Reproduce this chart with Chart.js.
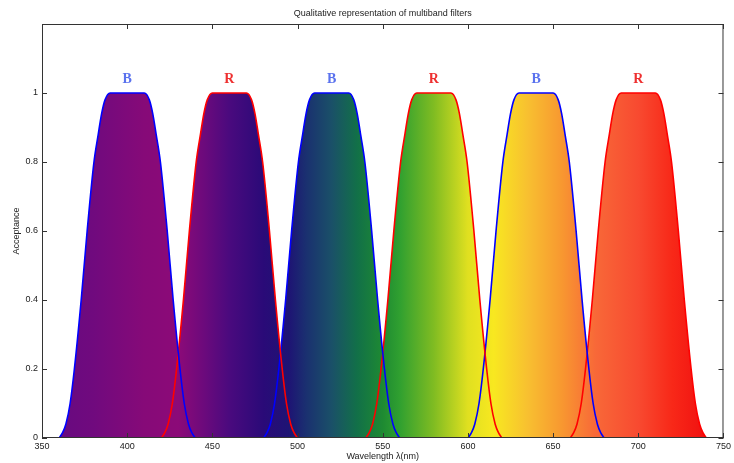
<!DOCTYPE html>
<html>
<head>
<meta charset="utf-8">
<script src="https://cdn.jsdelivr.net/npm/chart.js@4"></script>
<style>
  body { margin: 0; background: #fff; }
  canvas { display: block; }
</style>
</head>
<body>
<canvas id="filters" width="734" height="463"></canvas>
<script>
// acceptance profile (same shape for every filter)
const acceptance = [0, 0.015, 0.04, 0.1, 0.2, 0.4, 0.6, 0.8, 0.88, 0.94, 0.98, 1, 1, 0.98, 0.94, 0.88, 0.8, 0.6, 0.4, 0.2, 0.1, 0.04, 0.015, 0];

// wavelength of each point, per filter
const b1Wave = [360, 362, 364, 366.5, 369, 373, 376.5, 380.5, 383, 385, 387, 390, 410, 413, 415, 417, 419.5, 423.5, 427, 431, 433.5, 436, 438, 440];
const r1Wave = [420, 422, 424, 426.5, 429, 433, 436.5, 440.5, 443, 445, 447, 450, 470, 473, 475, 477, 479.5, 483.5, 487, 491, 493.5, 496, 498, 500];
const b2Wave = [480, 482, 484, 486.5, 489, 493, 496.5, 500.5, 503, 505, 507, 510, 530, 533, 535, 537, 539.5, 543.5, 547, 551, 553.5, 556, 558, 560];
const r2Wave = [540, 542, 544, 546.5, 549, 553, 556.5, 560.5, 563, 565, 567, 570, 590, 593, 595, 597, 599.5, 603.5, 607, 611, 613.5, 616, 618, 620];
const b3Wave = [600, 602, 604, 606.5, 609, 613, 616.5, 620.5, 623, 625, 627, 630, 650, 653, 655, 657, 659.5, 663.5, 667, 671, 673.5, 676, 678, 680];
const r3Wave = [660, 662, 664, 666.5, 669, 673, 676.5, 680.5, 683, 685, 687, 690, 710, 713, 715, 717, 719.5, 723.5, 727, 731, 733.5, 736, 738, 740];

const bandNames = ["B", "R", "B", "R", "B", "R"];
const bandCenters = [400, 460, 520, 580, 640, 700];
const labelLevel = 1.04;

const xTicks = [350, 400, 450, 500, 550, 600, 650, 700, 750];
const yTicks = [0, 0.2, 0.4, 0.6, 0.8, 1];

// spectrum colours under the curves
const spectrumNm = [350, 360, 380, 410, 430, 445, 460, 480, 495, 505, 520, 535, 550, 560, 580, 600, 615, 635, 655, 675, 700, 720, 740, 750];
const spectrumColors = ["#660a80", "#680a80", "#700a7e", "#860a78", "#8c0a78", "#6c0a7c", "#4a0a7e", "#2a0a78", "#1e1474", "#1a3070", "#1a5068", "#127048", "#1e8a32", "#30a030", "#80bc22", "#e0e020", "#f8e820", "#f8c030", "#f89830", "#f86838", "#f84a30", "#f82818", "#f01010", "#f01010"];

function spectrum(context) {
    const chart = context.chart;
    if (!chart.chartArea) return "transparent";
    const x = chart.scales.x;
    const g = chart.ctx.createLinearGradient(x.getPixelForValue(350), 0, x.getPixelForValue(750), 0);
    spectrumNm.forEach((nm, i) => g.addColorStop((nm - 350) / 400, spectrumColors[i]));
    return g;
}

function band(waves, color) {
    return {
        data: waves.map((w, i) => ({ x: w, y: acceptance[i] })),
        borderColor: color,
        borderWidth: 1.6,
        backgroundColor: spectrum,
        fill: "origin",
        pointRadius: 0,
        cubicInterpolationMode: "monotone"
    };
}

const frame = {
    id: "frame",
    afterDraw(chart) {
        const ctx = chart.ctx;
        const a = chart.chartArea;
        const sx = chart.scales.x, sy = chart.scales.y;
        ctx.save();
        ctx.strokeStyle = "#333";
        ctx.lineWidth = 1;
        ctx.strokeRect(a.left + 0.5, a.top + 0.5, a.right - a.left - 1, a.bottom - a.top - 1);
        ctx.beginPath();
        xTicks.forEach(v => {
            const px = Math.round(sx.getPixelForValue(v)) + 0.5;
            ctx.moveTo(px, a.bottom); ctx.lineTo(px, a.bottom - 5);
            ctx.moveTo(px, a.top); ctx.lineTo(px, a.top + 5);
        });
        yTicks.forEach(v => {
            const py = Math.round(sy.getPixelForValue(v)) + 0.5;
            ctx.moveTo(a.left, py); ctx.lineTo(a.left + 5, py);
            ctx.moveTo(a.right, py); ctx.lineTo(a.right - 5, py);
        });
        ctx.stroke();

        // band letters
        ctx.font = "bold 14px 'Liberation Serif', serif";
        ctx.textAlign = "center";
        ctx.textBaseline = "middle";
        bandNames.forEach((n, i) => {
            ctx.fillStyle = n === "B" ? "#5a72ee" : "#ee3030";
            ctx.fillText(n, sx.getPixelForValue(bandCenters[i]), sy.getPixelForValue(labelLevel));
        });

        // titles
        const cx = (a.left + a.right) / 2;
        ctx.fillStyle = "#222";
        ctx.font = "9px 'Liberation Sans', Arial, sans-serif";
        ctx.fillText("Qualitative representation of multiband filters", cx, 14);
        ctx.fillText("Wavelength \u03bb(nm)", cx, 457);
        ctx.translate(17, (a.top + a.bottom) / 2);
        ctx.rotate(-Math.PI / 2);
        ctx.fillText("Acceptance", 0, 0);
        ctx.restore();
    }
};

new Chart(document.getElementById("filters"), {
    type: "line",
    data: {
        datasets: [
            band(b1Wave, "#0000ff"),
            band(r1Wave, "#ff0000"),
            band(b2Wave, "#0000ff"),
            band(r2Wave, "#ff0000"),
            band(b3Wave, "#0000ff"),
            band(r3Wave, "#ff0000")
        ]
    },
    options: {
        responsive: false,
        animation: false,
        devicePixelRatio: 1,
        layout: { padding: { top: 24, right: 7, left: 0, bottom: 0 } },
        plugins: {
            legend: { display: false },
            tooltip: { enabled: false },
            filler: { drawTime: "beforeDatasetsDraw" }
        },
        scales: {
            x: {
                type: "linear",
                min: 350,
                max: 750,
                afterBuildTicks: s => { s.ticks = xTicks.map(v => ({ value: v })); },
                afterFit: s => { s.height = 25; },
                grid: { display: false, drawTicks: false },
                border: { display: false },
                ticks: {
                    padding: 3,
                    color: "#222",
                    font: { size: 9, family: "'Liberation Sans', Arial, sans-serif" },
                    maxRotation: 0
                }
            },
            y: {
                min: 0,
                max: 1.2,
                afterBuildTicks: s => { s.ticks = yTicks.map(v => ({ value: v })); },
                afterFit: s => { s.width = 42; },
                grid: { display: false, drawTicks: false },
                border: { display: false },
                ticks: {
                    padding: 4,
                    color: "#222",
                    font: { size: 9, family: "'Liberation Sans', Arial, sans-serif" },
                    callback: v => String(+v.toFixed(1))
                }
            }
        }
    },
    plugins: [frame]
});
</script>
</body>
</html>
